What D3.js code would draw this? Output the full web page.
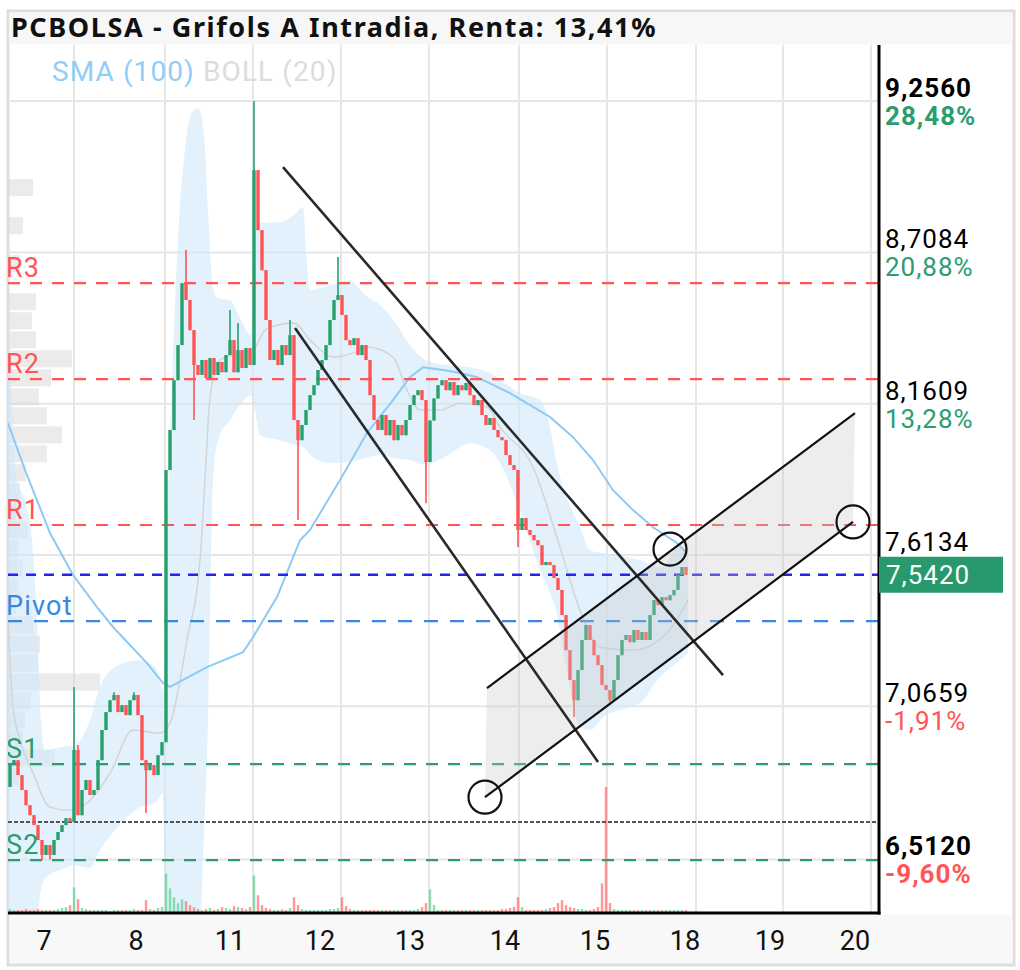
<!DOCTYPE html>
<html><head><meta charset="utf-8">
<script src="https://cdn.jsdelivr.net/npm/d3@7"></script>
<style>
html,body{margin:0;padding:0;background:#fff;}
svg{display:block;}
text{font-family:Roboto,"Noto Sans",sans-serif;}
</style></head><body>
<svg id="chart" width="1020" height="970"></svg>
<script>
// ---------------- DATA ----------------
const titleText = "PCBOLSA - Grifols A Intradia, Renta: 13,41%";
const legendItems = ["SMA (100)", "BOLL (20)"];

// Intraday candles (one slot each), closes in EUR; first open given separately
const firstOpen = 6.774;
const closes = [
 6.853,6.871,6.817,6.763,6.708,6.672,6.636,6.582,6.528,6.564,
 6.528,6.582,6.611,6.636,6.661,6.647,6.908,6.672,6.763,6.799,
 6.745,6.763,6.871,6.980,7.045,7.088,7.107,7.045,7.070,7.034,
 7.088,7.107,7.034,6.871,6.835,6.853,6.817,6.889,6.936,7.921,
 8.066,8.246,8.373,8.597,8.536,8.427,8.301,8.265,8.319,8.254,
 8.326,8.265,8.312,8.275,8.337,8.391,8.275,8.355,8.290,8.362,
 8.301,9.006,8.789,8.644,8.464,8.319,8.355,8.301,8.373,8.337,
 8.409,8.102,8.029,8.084,8.138,8.192,8.228,8.283,8.319,8.373,
 8.464,8.536,8.554,8.482,8.391,8.373,8.398,8.337,8.373,8.319,
 8.192,8.102,8.066,8.120,8.047,8.102,8.029,8.084,8.047,8.102,
 8.156,8.192,8.210,8.174,7.950,8.100,8.180,8.228,8.246,8.210,
 8.239,8.192,8.228,8.210,8.236,8.192,8.156,8.174,8.120,8.084,
 8.109,8.066,8.040,8.029,7.975,7.939,7.921,7.704,7.747,7.704,
 7.686,7.667,7.649,7.577,7.588,7.577,7.530,7.487,7.396,7.269,
 7.161,7.088,7.197,7.306,7.360,7.306,7.251,7.215,7.143,7.125,
 7.088,7.161,7.251,7.306,7.324,7.298,7.342,7.306,7.335,7.306,
 7.396,7.450,7.432,7.461,7.450,7.468,7.487,7.541,7.570,7.542
];
// wick extremes that stick out of the bodies: [slot, high, low]
const wicks = [
 [8,null,6.509],[10,null,6.512],[16,7.136,null],[17,6.926,null],[26,7.117,null],
 [31,7.117,null],[34,null,6.680],[44,8.717,null],[46,null,8.102],[55,8.500,null],
 [57,8.453,null],[61,9.256,null],[70,8.464,null],[72,null,7.740],[82,8.692,null],
 [104,null,7.801],[127,null,7.642],[141,null,7.027],[150,null,7.078]
];
const volumes = [
 4,3,3,3,4,3,3,4,3,3,3,3,4,5,6,8,
 26,14,
 5,4,3,3,3,3,3,2,3,3,3,3,3,4,3,3,13,4,3,5,6,
 40,25,16,10,14,12,8,6,
 4,3,4,5,3,4,6,5,4,7,6,5,4,6,
 38,18,8,
 5,4,3,3,4,3,5,
 16,8,
 4,3,3,3,3,3,3,4,4,5,
 16,7,
 4,3,3,3,3,3,3,3,3,3,3,3,3,3,3,3,3,4,6,10,
 24,8,
 3,3,3,3,3,3,3,3,3,3,3,3,3,3,3,3,4,4,5,6,
 16,6,
 3,3,3,3,3,4,5,6,
 10,13,8,
 6,5,4,4,3,3,4,6,
 30,128,10,
 4,3,3,3,3,3,3,3,3,3,3,3,3,3,3,3,3,3,3
];

// Bollinger (20) band, traced: slot, upper, lower
const bollT  = [0,1,2.25,4.25,6,7.25,8.25,9.25,13,16.75,20.5,23,26.75,29.75,33,36.75,38.75,39.5,41,42.5,44.25,46,47.5,49,50,51.25,52.5,55.5,58,60.75,61.5,63,68,71.75,73.75,74.5,75.5,80.5,85.5,89.25,93,96.75,100.5,104.25,109.25,115.5,120.5,128,133,135.5,137,139.25,143,145.5,149.25,153,158,163,168,170];
const bollUp = [8.572,8.174,7.885,7.812,7.667,7.378,7.016,6.907,6.918,6.926,7.016,7.136,7.208,7.226,7.233,7.208,7.125,7.595,8.246,8.753,9.079,9.216,9.231,9.133,8.862,8.579,8.543,8.536,8.471,8.409,8.753,8.815,8.818,8.847,8.872,8.717,8.572,8.590,8.608,8.554,8.518,8.456,8.373,8.319,8.301,8.293,8.272,8.199,8.174,8.076,7.957,7.838,7.714,7.631,7.620,7.610,7.595,7.570,7.642,7.613];
const bollLo = [6.148,6.148,6.148,6.148,6.184,6.292,6.401,6.444,6.473,6.491,6.481,6.546,6.618,6.665,6.701,6.716,6.752,6.148,6.148,6.148,6.148,6.148,6.148,6.618,7.016,7.885,8.029,8.102,8.156,8.192,8.156,8.047,8.029,8.011,8.004,7.993,7.975,7.946,7.950,7.964,7.975,7.964,7.957,7.939,7.968,8.018,7.993,7.776,7.559,7.476,7.414,7.233,6.991,6.980,7.034,7.052,7.078,7.172,7.233,7.259];
const midT = [0,1.25,3,6.25,10.5,14.75,19.75,25.5,31.25,38,40.5,44.75,48,49.25,50.5,53,58,61.25,64.25,67.25,71.25,76.25,81.25,86.25,89.75,96.25,99.75,103,108,113,119.75,123,131.25,138,143,148,156.25,164.75,170];
const midV = [7.378,7.063,6.944,6.824,6.701,6.690,6.716,6.824,6.980,6.969,7.005,7.306,7.595,7.885,8.185,8.319,8.344,8.355,8.427,8.445,8.453,8.380,8.330,8.344,8.366,8.330,8.210,8.138,8.138,8.163,8.149,8.076,7.932,7.642,7.414,7.280,7.269,7.331,7.450];
const smaT = [0,4.25,10.5,16.25,22.25,26.25,34.75,38.75,40.5,49.75,58.75,61.25,67.25,73,75.5,83,89.75,96.25,100.5,103.75,108.75,113,117.25,125.5,135.5,141.25,146.25,151.25,156.25,161.25,167.25,169.75];
const smaV = [8.091,7.921,7.693,7.541,7.425,7.353,7.222,7.150,7.136,7.208,7.262,7.316,7.461,7.667,7.704,7.885,8.055,8.174,8.257,8.293,8.283,8.272,8.257,8.199,8.113,8.040,7.957,7.848,7.776,7.714,7.657,7.620];

// Volume profile (left): top price of first bin, bin step, volumes per bin
const profileTop = 8.977;
const profileStep = 0.0688;
const profileVol = [25,0,15,0,12,0,28,24,28,64,43,31,39,54,39,18,12,8,20,10,15,10,8,25,32,30,92,23,17,15,47,10];

// Axis
const dayLabels = ["7","8","11","12","13","14","15","18","19","20"];
const dayLabelSlots = [9,32,55.5,78,100.5,124.25,146.75,169.25,190.5,211.75];
const dayGridSlots = [16.5,39.25,61.25,83.25,105.25,127.75,149.75,172,193.75,215.75];
const slotMax = 217.75;
const priceMin = 6.318, priceMax = 9.459;
const axisValues = [9.256, 8.7084, 8.1609, 7.6134, 7.0659, 6.512];
const axisLabels = ["9,2560","8,7084","8,1609","7,6134","7,0659","6,5120"];
const axisPercents = ["28,48%","20,88%","13,28%",null,"-1,91%","-9,60%"];
const axisBold = [true,false,false,false,false,true];
const lastPrice = 7.542, lastLabel = "7,5420";
const refPrice = 6.647;

// Pivot levels
const levelNames = ["R3","R2","R1","Pivot","S1","S2"];
const levelValues = [8.597, 8.250, 7.722, 7.374, 6.857, 6.509];

// Drawn tools: [slot1, price1, slot2, price2]
const trendLines = [
 [68.75, 9.017, 178.75, 7.179],
 [71.75, 8.435, 147.5, 6.864]
];
const channelUpper = [119.75, 7.132, 211.75, 8.127];
const channelLower = [119.25, 6.737, 211.25, 7.733];
const circleMarks = [[119.25, 6.737],[165.5, 7.635],[211.25, 7.733]];

// ---------------- DRAW ----------------
const svg = d3.select("#chart");
const L = 8, R = 879, T = 45, B = 913;
const x = d3.scaleLinear().domain([0, slotMax]).range([L, R]);
const y = d3.scaleLinear().domain([priceMin, priceMax]).range([B, T]);
const vH = d3.scaleLinear().domain([0, 130]).range([0, 128]);
const pW = d3.scaleLinear().domain([0, 100]).range([0, 100]);

const GREEN = "#26a06d", RED = "#ff5454";

// frame
svg.append("rect").attr("x",0).attr("y",0).attr("width",1020).attr("height",970).attr("fill","#fff");
svg.append("rect").attr("x",8).attr("y",11).attr("width",1006).attr("height",954)
  .attr("fill","#fff").attr("stroke","#dedede").attr("stroke-width",3);
svg.append("rect").attr("x",9.5).attr("y",12.5).attr("width",1003).attr("height",32).attr("fill","#f7f7f7");
svg.append("rect").attr("x",9.5).attr("y",915).attr("width",1003).attr("height",48).attr("fill","#f8f8f8");

svg.append("text").attr("x",11).attr("y",37).text(titleText)
  .style("font-family","'Noto Sans','Open Sans',sans-serif").attr("font-weight","bold")
  .attr("font-size",27).attr("letter-spacing",1.6).attr("fill","#111");

svg.append("defs").append("clipPath").attr("id","plot")
  .append("rect").attr("x",L).attr("y",T).attr("width",R-L).attr("height",B-T);
const g = svg.append("g").attr("clip-path","url(#plot)");

// grid
g.selectAll(".vg").data(dayGridSlots).enter().append("line")
  .attr("x1",d=>x(d)).attr("x2",d=>x(d)).attr("y1",T).attr("y2",B)
  .attr("stroke","#e6e6e6").attr("stroke-width",2);
g.selectAll(".hg").data(axisValues).enter().append("line")
  .attr("x1",L).attr("x2",R).attr("y1",d=>y(d)).attr("y2",d=>y(d))
  .attr("stroke","#e6e6e6").attr("stroke-width",2);

// volume profile
g.selectAll(".pf").data(profileVol).enter().append("rect")
  .attr("x",L).attr("y",(d,i)=>y(profileTop - i*profileStep)+1)
  .attr("width",d=>pW(d))
  .attr("height",(d,i)=>y(profileTop-(i+1)*profileStep)-y(profileTop-i*profileStep)-2)
  .attr("fill","#d8d8d8").attr("opacity",0.5);

// bollinger band
const bollData = bollT.map((t,i)=>({t, u:bollUp[i], l:bollLo[i]}));
g.append("path").datum(bollData)
  .attr("d", d3.area().x(d=>x(d.t)).y0(d=>y(d.l)).y1(d=>y(d.u)).curve(d3.curveMonotoneX))
  .attr("fill","#cfe8fa").attr("opacity",0.6);

// volumes
g.selectAll(".vol").data(volumes).enter().append("rect")
  .attr("x",(d,i)=>x(i)+0.8).attr("width",x(1)-x(0)-1.6)
  .attr("y",d=>B-vH(d)).attr("height",d=>vH(d))
  .attr("fill",(d,i)=>{const o=i===0?firstOpen:closes[i-1];return closes[i]>=o?"#5ccf8e":"#ff6b6b";})
  .attr("opacity",0.7);

// boll middle
g.append("path").datum(midT.map((t,i)=>({t,v:midV[i]})))
  .attr("d", d3.line().x(d=>x(d.t)).y(d=>y(d.v)).curve(d3.curveMonotoneX))
  .attr("fill","none").attr("stroke","#d4d4d4").attr("stroke-width",1.5);

// SMA 100
g.append("path").datum(smaT.map((t,i)=>({t,v:smaV[i]})))
  .attr("d", d3.line().x(d=>x(d.t)).y(d=>y(d.v)))
  .attr("fill","none").attr("stroke","#8ccaf5").attr("stroke-width",2);

// levels
const levelColor = ["#ff5555","#ff5555","#ff5555","#3a87e0","#2b9d6e","#2b9d6e"];
g.selectAll(".lvl").data(levelValues).enter().append("line")
  .attr("x1",L).attr("x2",R).attr("y1",d=>y(d)).attr("y2",d=>y(d))
  .attr("stroke",(d,i)=>levelColor[i]).attr("stroke-width",2.2)
  .attr("stroke-dasharray",(d,i)=>i===3?"14 12":"12 10");
g.append("line").attr("x1",L).attr("x2",R).attr("y1",y(refPrice)).attr("y2",y(refPrice))
  .attr("stroke","#555").attr("stroke-width",2).attr("stroke-dasharray","4 2");
g.append("line").attr("x1",L).attr("x2",R).attr("y1",y(lastPrice)).attr("y2",y(lastPrice))
  .attr("stroke","#2323ee").attr("stroke-width",2.5).attr("stroke-dasharray","10 8");

// candles
const wickMap = new Map(wicks.map(w=>[w[0],w]));
const candles = closes.map((c,i)=>{
  const o = i===0?firstOpen:closes[i-1];
  const w = wickMap.get(i);
  let h = Math.max(o,c), l = Math.min(o,c);
  if (w) { if (w[1]!=null) h = Math.max(h,w[1]); if (w[2]!=null) l = Math.min(l,w[2]); }
  return {i,o,c,h,l,up:c>=o};
});
const cg = g.append("g");
cg.selectAll(".wk").data(candles).enter().append("line")
  .attr("x1",d=>x(d.i+0.5)).attr("x2",d=>x(d.i+0.5))
  .attr("y1",d=>y(d.h)).attr("y2",d=>y(d.l))
  .attr("stroke",d=>d.up?GREEN:RED).attr("stroke-width",1.6);
cg.selectAll(".bd").data(candles).enter().append("rect")
  .attr("x",d=>x(d.i)+0.3).attr("width",x(1)-x(0)-0.6)
  .attr("y",d=>y(Math.max(d.o,d.c)))
  .attr("height",d=>Math.max(2, Math.abs(y(d.o)-y(d.c))))
  .attr("fill",d=>d.up?GREEN:RED);

// channel fill
const chPoly = [
  [x(channelUpper[0]), y(channelUpper[1])],
  [x(channelUpper[2]), y(channelUpper[3])],
  [x(channelLower[2]), y(channelLower[3])],
  [x(channelLower[0]), y(channelLower[1])]
];
g.append("path").attr("d", d3.line()(chPoly)+"Z").attr("fill","#c8c8c8").attr("opacity",0.32);

// lines
const allLines = trendLines.concat([channelUpper, channelLower]);
g.selectAll(".tl").data(allLines).enter().append("line")
  .attr("x1",d=>x(d[0])).attr("y1",d=>y(d[1])).attr("x2",d=>x(d[2])).attr("y2",d=>y(d[3]))
  .attr("stroke",(d,i)=>i<2?"#2a2a2a":"#111").attr("stroke-width",(d,i)=>i<2?2.6:2.2);
g.selectAll(".cm").data(circleMarks).enter().append("circle")
  .attr("cx",d=>x(d[0])).attr("cy",d=>y(d[1])).attr("r",16.5)
  .attr("fill","none").attr("stroke","#111").attr("stroke-width",2.2);

// level labels
g.selectAll(".ll").data(levelValues).enter().append("text")
  .attr("x",L-2).attr("y",d=>y(d)-6).text((d,i)=>levelNames[i])
  .attr("font-size",27).attr("letter-spacing",1.2).attr("fill",(d,i)=>levelColor[i]);

// legend
const lg = svg.append("text").attr("x",52).attr("y",81).attr("font-size",28).attr("letter-spacing",1.1);
lg.append("tspan").text(legendItems[0]+" ").attr("fill","#90cdf7");
lg.append("tspan").text(legendItems[1]).attr("fill","#dcdcdc");

// axes lines
svg.append("line").attr("x1",R).attr("x2",R).attr("y1",T).attr("y2",B+1.5).attr("stroke","#000").attr("stroke-width",3);
svg.append("line").attr("x1",L).attr("x2",R+1.5).attr("y1",B).attr("y2",B).attr("stroke","#000").attr("stroke-width",3);

// right axis labels
const ra = svg.append("g");
axisValues.forEach((v,i)=>{
  ra.append("text").attr("x",885).attr("y",y(v)-4).text(axisLabels[i])
    .attr("font-size",26).attr("letter-spacing",1)
    .attr("font-weight",axisBold[i]?"bold":"normal").attr("fill","#000");
  if (axisPercents[i]) {
    ra.append("text").attr("x",885).attr("y",y(v)+24).text(axisPercents[i])
      .attr("font-size",26).attr("letter-spacing",1)
      .attr("font-weight",axisBold[i]?"bold":"normal")
      .attr("fill",axisPercents[i].startsWith("-")?"#ff5555":"#2b9d6e");
  }
});
// last price box
svg.append("rect").attr("x",R).attr("y",y(lastPrice)-18).attr("width",124).attr("height",36).attr("fill","#27996d");
svg.append("text").attr("x",886).attr("y",y(lastPrice)+9).text(lastLabel)
  .attr("font-size",26).attr("letter-spacing",1).attr("fill","#fff");

// bottom labels
svg.selectAll(".dl").data(dayLabels).enter().append("text")
  .attr("x",(d,i)=>x(dayLabelSlots[i])).attr("y",950).attr("text-anchor","middle")
  .text(d=>d).attr("font-size",27).attr("fill","#111");
</script>
</body></html>
